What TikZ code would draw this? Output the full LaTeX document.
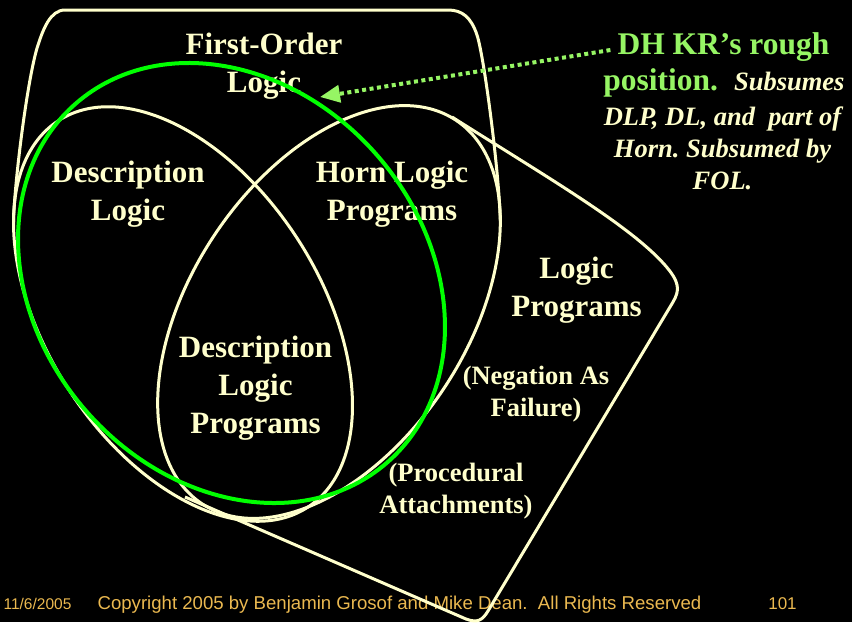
\documentclass[tikz,border=0pt]{standalone}
\usepackage{fontspec}
\setmainfont{Liberation Serif}
\newfontfamily\arialfont{Liberation Sans}
\usetikzlibrary{arrows.meta}
\definecolor{cream}{RGB}{255,255,204}
\definecolor{lgreen}{RGB}{150,245,100}
\definecolor{vgreen}{RGB}{0,255,0}
\definecolor{gold}{RGB}{235,185,80}
\begin{document}
\begin{tikzpicture}[x=1pt,y=-1pt,
  venn/.style={draw=cream, line width=3pt, line join=round},
  biglabel/.style={text=cream, font=\fontsize{31}{38}\selectfont\bfseries, align=center, inner sep=0pt},
  smalllabel/.style={text=cream, font=\fontsize{26.5}{32}\selectfont\bfseries, align=center, inner sep=0pt},
  greenbold/.style={text=lgreen, font=\fontsize{31.5}{38}\selectfont\bfseries, inner sep=0pt},
  italbold/.style={text=cream, font=\fontsize{26.5}{32}\selectfont\bfseries\itshape, inner sep=0pt},
  footer/.style={text=gold, font=\arialfont\fontsize{18.6}{20}\selectfont, inner sep=0pt, anchor=base},
  pointer/.style={draw=lgreen, line width=4pt, dash pattern=on 4pt off 3.5pt, -{Triangle[length=20pt,width=17pt,fill=lgreen]}},
  position/.style={draw=vgreen, line width=4pt}]
\fill[black] (0,0) rectangle (852,622);
\useasboundingbox (0,0) rectangle (852,622);
% footer
\node[footer, font=\arialfont\fontsize{15.5}{18}\selectfont] (date) at (37.5,609) {11/6/2005};
\node[footer] (copy) at (399.5,609) {Copyright 2005 by Benjamin Grosof and Mike Dean.\ \ All Rights Reserved};
\node[footer, font=\arialfont\fontsize{17}{20}\selectfont] (page) at (782.5,609) {101};
% Description Logic ellipse
\draw[venn, rotate around={-57.3:(183,314)}] (183,314) ellipse [x radius=230, y radius=137];
% Horn Logic Programs ellipse
\draw[venn, rotate around={56.5:(329,312)}] (329,312) ellipse [x radius=230, y radius=138];
% First-Order Logic cap
\draw[venn] (13.5,222) .. controls (14.5,180) and (28,75) .. (38,45)
  .. controls (43,30) and (50,10) .. (65,10) -- (448,10)
  .. controls (462,10) and (471,17) .. (477,35)
  .. controls (484,56) and (499,170) .. (500.3,221);
% Logic Programs region
\draw[venn] (452,117) .. controls (545,176) and (628,224) .. (664,264)
  .. controls (680,282) and (680,290) .. (673,302) -- (488,611)
  .. controls (482,621) and (477,623) .. (466,619) -- (185,497);
% labels
\node[biglabel] (fol) at (264,66) {First-Order\\Logic};
\node[biglabel] (dl) at (128,194) {Description\\Logic};
\node[biglabel] (hlp) at (392,194) {Horn Logic\\Programs};
\node[biglabel] (dlp) at (255.5,388.5) {Description\\Logic\\Programs};
\node[biglabel] (lp) at (576.5,290) {Logic\\Programs};
\node[smalllabel] (naf) at (536,394) {(Negation As\\Failure)};
\node[smalllabel] (proc) at (456,491) {(Procedural\\Attachments)};
% green position ellipse
\draw[position, rotate around={-49.3:(231.5,283)}] (231.5,283) ellipse [x radius=237.6, y radius=193.7];
% right-hand annotation
\node[greenbold, anchor=base] (dh1) at (723.5,54) {DH KR’s rough};
\node[anchor=base, inner sep=0pt, font=\fontsize{26.5}{32}\selectfont\bfseries] (dh2) at (724,90.5) {\textcolor{lgreen}{\fontsize{31.5}{38}\selectfont position.}\hspace*{16pt}\textcolor{cream}{\itshape Subsumes}};
\node[italbold, anchor=base] (dh3) at (722.5,125) {DLP, DL, and\ \ part of};
\node[italbold, anchor=base] (dh4) at (722.5,157) {Horn.\ Subsumed by};
\node[italbold, anchor=base] (dh5) at (722.5,189.5) {FOL.};
% pointer
\coordinate (arrS) at ([xshift=-7pt,yshift=4pt]dh1.base west);
\coordinate (arrT) at (320,97);
\draw[pointer] (arrS) -- (arrT);
\end{tikzpicture}
\end{document}
